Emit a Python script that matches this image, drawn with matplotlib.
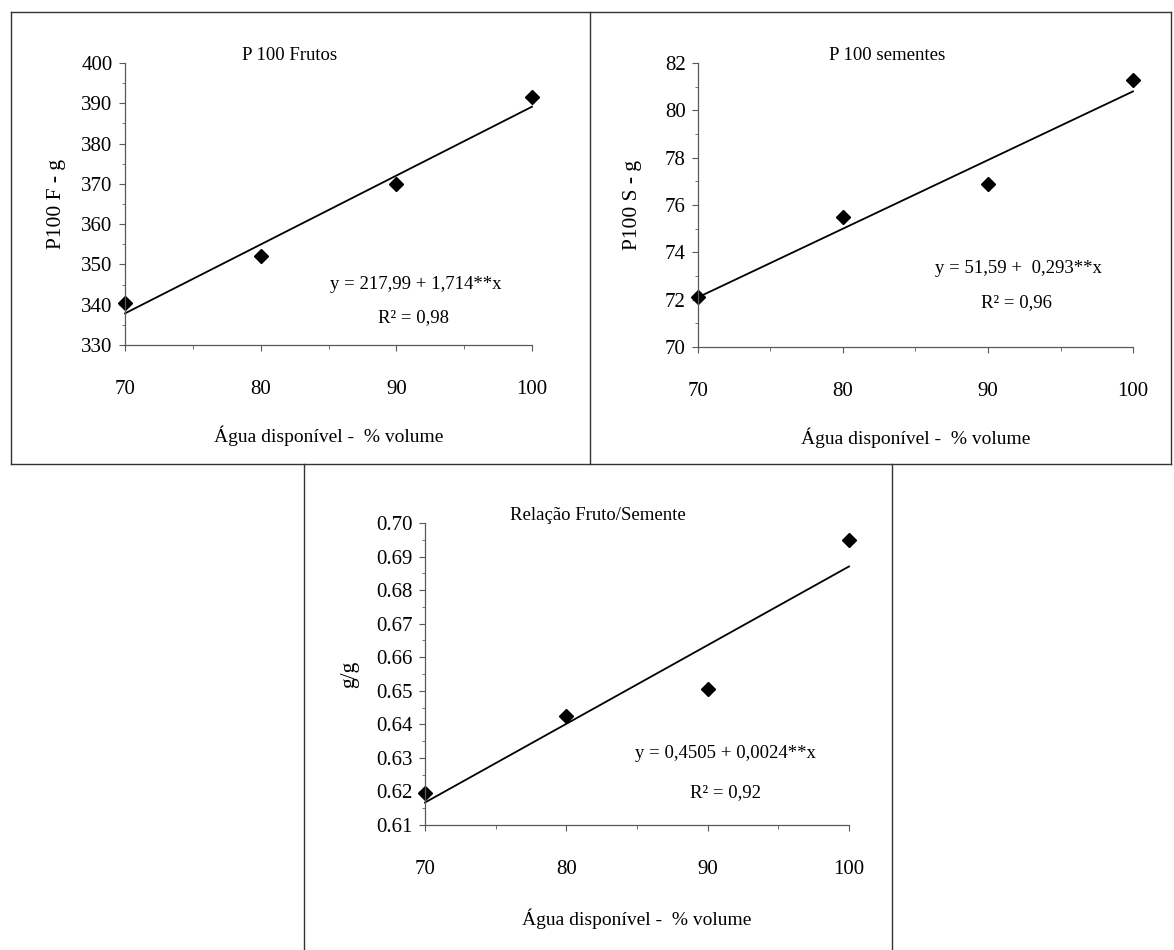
import numpy as np
import matplotlib
matplotlib.use("Agg")
import matplotlib.pyplot as plt
from matplotlib.lines import Line2D
from matplotlib.ticker import MultipleLocator, FormatStrFormatter

plt.rcParams['font.family'] = ['Liberation Serif', 'DejaVu Serif']
plt.rcParams['mathtext.fontset'] = 'custom'
plt.rcParams['mathtext.rm'] = 'Liberation Serif'

agua = [70, 80, 90, 100]

p100_frutos = [340.5, 352.0, 370.0, 391.5]
p100_sementes = [72.1, 75.5, 76.9, 81.3]
relacao = [0.6195, 0.6425, 0.6505, 0.695]

titles = ["P 100 Frutos", "P 100 sementes", "Relação Fruto/Semente"]
ylabels = ["P100 F - g", "P100 S - g", "g/g"]
equations = ["y = 217,99 + 1,714**x", "y = 51,59 +  0,293**x", "y = 0,4505 + 0,0024**x"]
r2_labels = ["R² = 0,98", "R² = 0,96", "R² = 0,92"]
xlabel = "Água disponível -  % volume"

W, H = 1174, 950
fig = plt.figure(figsize=(W / 100, H / 100), dpi=100)

def px_rect(x0, y0, x1, y1):
    # pixel box (top-left origin) -> figure fraction [left, bottom, width, height]
    return [x0 / W, 1 - y1 / H, (x1 - x0) / W, (y1 - y0) / H]

ax1 = fig.add_axes(px_rect(125, 63, 532, 345))
ax2 = fig.add_axes(px_rect(698, 63, 1133, 347))
ax3 = fig.add_axes(px_rect(425, 523, 849, 825))

series = [p100_frutos, p100_sementes, relacao]
ylims = [(330, 400, 10, "%d"), (70, 82, 2, "%d"), (0.61, 0.70, 0.01, "%.2f")]
title_pos = [(0.405, 1.028), (0.434, 1.028), (0.408, 1.026)]
eq_pos = [(0.715, 0.213), (0.736, 0.278), (0.708, 0.238)]
r2_pos = [(0.71, 0.096), (0.733, 0.155), (0.708, 0.106)]
ylab_x = [-0.145, -0.129, -0.156]
xlab_y = [-0.284, -0.282, -0.275]

for i, ax in enumerate([ax1, ax2, ax3]):
    y = series[i]
    coef = np.polyfit(agua, y, 1)
    xs = np.array([agua[0], agua[-1]])
    ax.plot(xs, np.polyval(coef, xs), color='black', lw=1.3, clip_on=False)
    ax.plot(agua, y, linestyle='none', marker='D', ms=7, color='black', clip_on=False)

    lo, hi, step, fmt = ylims[i]
    ax.set_xlim(70, 100)
    ax.set_ylim(lo, hi)
    ax.set_xticks([70, 80, 90, 100])
    ax.xaxis.set_minor_locator(MultipleLocator(5))
    ax.yaxis.set_major_locator(MultipleLocator(step))
    ax.yaxis.set_minor_locator(MultipleLocator(step / 2))
    ax.yaxis.set_major_formatter(FormatStrFormatter(fmt))

    for s in ['top', 'right']:
        ax.spines[s].set_visible(False)
    for s in ['left', 'bottom']:
        ax.spines[s].set_color('0.35')
        ax.spines[s].set_linewidth(0.9)
    ax.tick_params(axis='x', which='major', direction='out', length=4, pad=21,
                   labelsize=15, color='0.35')
    ax.tick_params(axis='x', which='minor', direction='out', length=3, color='0.35')
    ax.tick_params(axis='y', which='major', direction='out', length=4, pad=5,
                   labelsize=15, color='0.35')
    ax.tick_params(axis='y', which='minor', direction='out', length=2, color='0.35')

    ax.text(title_pos[i][0], title_pos[i][1], titles[i], transform=ax.transAxes,
            ha='center', va='center', fontsize=13.5)
    ax.text(eq_pos[i][0], eq_pos[i][1], equations[i], transform=ax.transAxes,
            ha='center', va='center', fontsize=13.5)
    ax.text(r2_pos[i][0], r2_pos[i][1], r2_labels[i], transform=ax.transAxes,
            ha='center', va='center', fontsize=13.5)

    ax.set_ylabel(ylabels[i], fontsize=15.5)
    ax.yaxis.set_label_coords(ylab_x[i], 0.5)
    ax.set_xlabel(xlabel, fontsize=14)
    ax.xaxis.set_label_coords(0.5, xlab_y[i])

# panel frames
def vline(x, y0, y1):
    fig.add_artist(Line2D([x / W, x / W], [1 - y0 / H, 1 - y1 / H], color='0.2', lw=1.0))

def hline(y, x0, x1):
    fig.add_artist(Line2D([x0 / W, x1 / W], [1 - y / H, 1 - y / H], color='0.2', lw=1.0))

hline(12, 11, 1171)
hline(464, 11, 1171)
vline(11, 12, 464)
vline(590, 12, 464)
vline(1171, 12, 464)
vline(304, 464, 950)
vline(892, 464, 950)

fig.savefig("out.png", dpi=100)
